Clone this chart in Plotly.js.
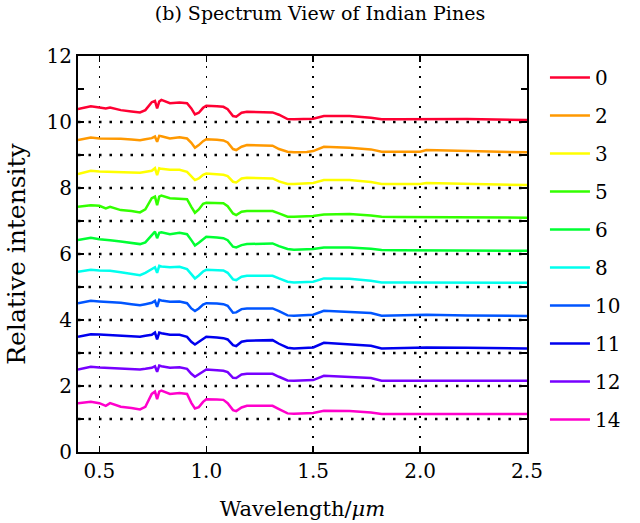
<!DOCTYPE html>
<html>
<head>
<meta charset="utf-8">
<script src="https://cdn.plot.ly/plotly-3.0.1.min.js"></script>
<style>html,body{margin:0;padding:0;background:#fff;}#chart{width:640px;height:523px;}</style>
</head>
<body>
<div id="chart"></div>
<script>
const wavelength = [0.40,0.46,0.50,0.53,0.55,0.60,0.65,0.69,0.715,0.745,0.76,0.77,0.78,0.79,0.83,0.875,0.91,0.93,0.947,0.965,0.985,1.00,1.05,1.08,1.10,1.125,1.14,1.165,1.19,1.25,1.31,1.34,1.38,1.41,1.47,1.50,1.55,1.67,1.77,1.82,1.90,2.00,2.03,2.22,2.50];

const labels = ["0","2","3","5","6","8","10","11","12","14"];
const colors = ["#ff0033","#ff9900","#ffff00","#33ff00","#00ff33","#00ffee","#0055ff","#0000ee","#7700ff","#ff00cc"];
const baselines = [10,9,8,7,6,5,4,3,2,1];

const s0  = [10.39,10.48,10.44,10.41,10.44,10.36,10.32,10.29,10.36,10.60,10.64,10.41,10.62,10.67,10.57,10.59,10.57,10.41,10.23,10.28,10.43,10.49,10.48,10.46,10.39,10.18,10.16,10.28,10.31,10.30,10.29,10.22,10.09,10.08,10.09,10.10,10.18,10.18,10.13,10.08,10.08,10.09,10.09,10.09,10.06];
const s2  = [9.45,9.53,9.50,9.50,9.50,9.49,9.47,9.45,9.48,9.51,9.56,9.40,9.58,9.57,9.50,9.54,9.50,9.37,9.22,9.30,9.42,9.48,9.46,9.44,9.38,9.18,9.15,9.25,9.30,9.29,9.28,9.18,9.10,9.08,9.09,9.12,9.25,9.22,9.17,9.10,9.10,9.10,9.15,9.13,9.08];
const s3  = [8.42,8.52,8.50,8.49,8.49,8.48,8.47,8.46,8.49,8.52,8.60,8.39,8.60,8.58,8.55,8.55,8.49,8.36,8.24,8.29,8.40,8.44,8.42,8.40,8.36,8.19,8.17,8.29,8.31,8.30,8.29,8.20,8.12,8.12,8.13,8.15,8.24,8.24,8.18,8.12,8.12,8.12,8.15,8.12,8.09];
const s5  = [7.43,7.48,7.46,7.38,7.43,7.33,7.30,7.26,7.35,7.69,7.74,7.48,7.74,7.77,7.69,7.68,7.66,7.43,7.25,7.35,7.52,7.55,7.55,7.54,7.45,7.23,7.18,7.28,7.30,7.30,7.30,7.23,7.13,7.13,7.14,7.15,7.20,7.21,7.17,7.13,7.12,7.12,7.12,7.12,7.10];
const s6  = [6.42,6.49,6.45,6.42,6.42,6.38,6.33,6.30,6.35,6.58,6.68,6.48,6.64,6.66,6.60,6.64,6.60,6.42,6.26,6.34,6.45,6.52,6.50,6.48,6.42,6.22,6.20,6.27,6.30,6.31,6.32,6.24,6.15,6.13,6.14,6.15,6.20,6.20,6.16,6.12,6.11,6.11,6.12,6.11,6.10];
const s8  = [5.46,5.52,5.50,5.49,5.49,5.45,5.41,5.36,5.43,5.54,5.60,5.43,5.64,5.62,5.60,5.61,5.54,5.39,5.26,5.35,5.47,5.52,5.51,5.50,5.43,5.23,5.21,5.31,5.34,5.34,5.34,5.26,5.16,5.14,5.14,5.16,5.26,5.25,5.19,5.14,5.14,5.14,5.15,5.14,5.13];
const s10 = [4.51,4.58,4.56,4.55,4.55,4.52,4.48,4.45,4.48,4.52,4.58,4.40,4.61,4.59,4.55,4.56,4.51,4.35,4.27,4.35,4.47,4.51,4.50,4.48,4.43,4.22,4.23,4.33,4.35,4.35,4.35,4.27,4.14,4.13,4.14,4.16,4.28,4.25,4.21,4.13,4.14,4.15,4.16,4.14,4.12];
const s11 = [3.49,3.57,3.56,3.55,3.55,3.53,3.50,3.49,3.52,3.55,3.62,3.41,3.62,3.60,3.55,3.55,3.49,3.34,3.26,3.34,3.45,3.49,3.47,3.45,3.41,3.24,3.21,3.34,3.37,3.38,3.39,3.28,3.16,3.14,3.15,3.17,3.31,3.27,3.22,3.14,3.15,3.15,3.17,3.16,3.14];
const s12 = [2.50,2.58,2.56,2.55,2.55,2.53,2.51,2.50,2.52,2.55,2.60,2.43,2.62,2.60,2.55,2.57,2.52,2.37,2.28,2.36,2.46,2.50,2.48,2.46,2.42,2.25,2.24,2.35,2.37,2.37,2.37,2.28,2.17,2.16,2.16,2.18,2.31,2.28,2.24,2.16,2.16,2.16,2.18,2.17,2.16];
const s14 = [1.48,1.52,1.48,1.40,1.48,1.37,1.33,1.29,1.37,1.76,1.83,1.60,1.83,1.86,1.76,1.79,1.76,1.49,1.32,1.36,1.52,1.60,1.59,1.58,1.48,1.27,1.24,1.35,1.40,1.40,1.40,1.30,1.17,1.16,1.17,1.18,1.25,1.24,1.20,1.15,1.15,1.15,1.15,1.15,1.15];

const series = [s0,s2,s3,s5,s6,s8,s10,s11,s12,s14];
const xRange = [0.4, 2.5];

const traces = [];
baselines.forEach(b => {
  traces.push({
    x: xRange, y: [b, b], mode: 'lines', showlegend: false, hoverinfo: 'skip',
    line: {color: '#000', width: 2.5, dash: '2.5px,8px'}
  });
});
series.forEach((s, i) => {
  traces.push({
    x: wavelength, y: s, mode: 'lines', name: labels[i], legendgroup: 'g' + i,
    line: {color: colors[i], width: 2.5}
  });
});

const serif = 'DejaVu Serif';
const layout = {
  width: 640, height: 523,
  margin: {l: 78, r: 113, t: 56, b: 71},
  paper_bgcolor: '#fff', plot_bgcolor: '#fff',
  font: {family: serif, size: 20, color: '#000'},
  title: {text: '(b) Spectrum View of Indian Pines', x: 0.5, xanchor: 'center', y: 0.987, yanchor: 'top',
          font: {family: serif, size: 19, color: '#000'}},
  xaxis: {
    range: xRange, tickvals: [0.5,1.0,1.5,2.0,2.5], ticktext: ['0.5','1.0','1.5','2.0','2.5'],
    showgrid: true, gridcolor: '#000', gridwidth: 1.5, griddash: '2px,8px',
    showline: true, linecolor: '#000', linewidth: 2, mirror: 'ticks',
    ticks: 'inside', ticklen: 6, tickwidth: 1.5, tickcolor: '#000',
    zeroline: false, tickfont: {family: serif, size: 20},
    title: {text: 'Wavelength/<i>μm</i>', font: {family: serif, size: 21}, standoff: 19}
  },
  yaxis: {
    range: [0, 12], dtick: 2, tick0: 0,
    showgrid: false, showline: true, linecolor: '#000', linewidth: 2, mirror: 'ticks',
    ticks: 'inside', ticklen: 6, tickwidth: 1.5, tickcolor: '#000',
    minor: {dtick: 1, ticks: 'inside', ticklen: 6, tickwidth: 1.5, tickcolor: '#000', showgrid: false},
    zeroline: false, tickfont: {family: serif, size: 20},
    title: {text: 'Relative intensity', font: {family: serif, size: 25}, standoff: 14}
  },
  legend: {
    x: 1.04, xanchor: 'left', y: 0.995, yanchor: 'top',
    font: {family: serif, size: 20, color: '#000'},
    tracegroupgap: 9, itemwidth: 40, bgcolor: 'rgba(0,0,0,0)'
  },
  showlegend: true
};

Plotly.newPlot('chart', traces, layout, {displayModeBar: false, staticPlot: true});
</script>
</body>
</html>
